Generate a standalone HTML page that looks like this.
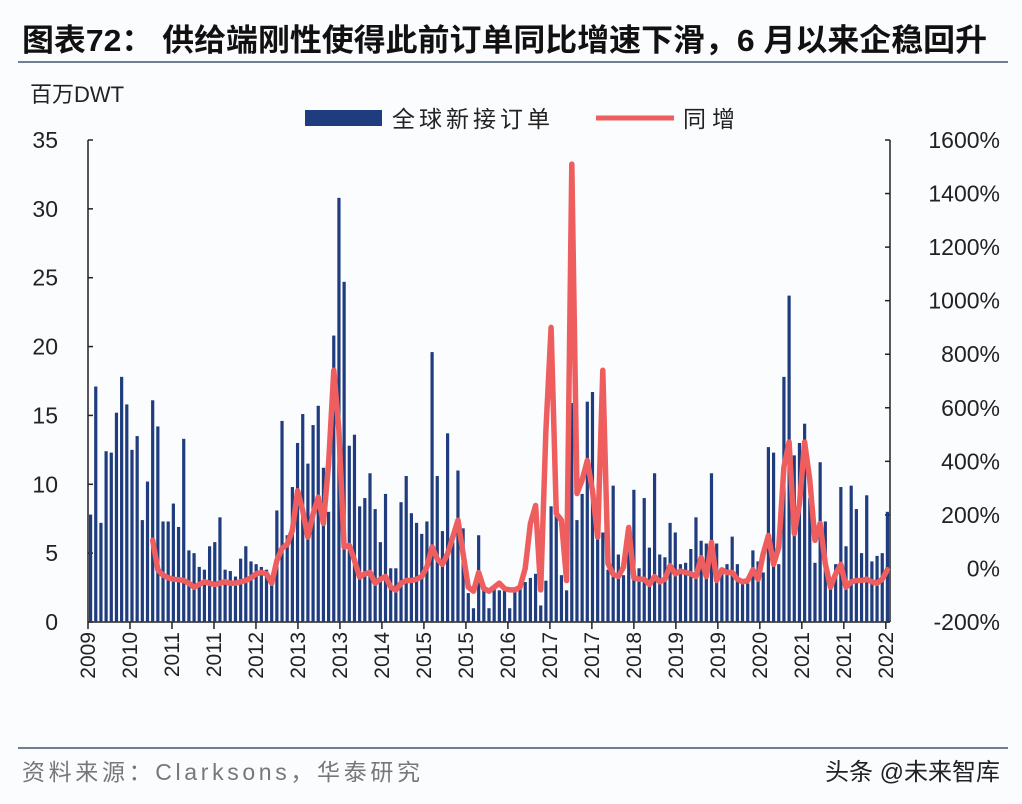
<!DOCTYPE html>
<html><head><meta charset="utf-8">
<style>
body{margin:0;background:#fbfcfe;}
svg{display:block;font-family:"Liberation Sans","Noto Sans CJK SC",sans-serif;}
</style></head>
<body>
<svg id="chart" width="1022" height="804" viewBox="0 0 1022 804">
<rect x="0" y="0" width="1022" height="804" fill="#fbfcfe"/>
<text x="22" y="51" font-size="31" font-weight="bold" fill="#111" textLength="965" lengthAdjust="spacingAndGlyphs">图表72： 供给端刚性使得此前订单同比增速下滑，6 月以来企稳回升</text>
<line x1="18" y1="62" x2="1008" y2="62" stroke="#6e7f95" stroke-width="2"/>
<text x="30" y="102" font-size="22" fill="#222">百万DWT</text>
<g>
<rect x="305" y="110" width="77" height="16" fill="#1f3c7e"/>
<text x="392" y="127" font-size="23" fill="#222" textLength="158" lengthAdjust="spacing">全球新接订单</text>
<line x1="596" y1="118" x2="674" y2="118" stroke="#ee5e5e" stroke-width="5"/>
<text x="683" y="127" font-size="23" fill="#222" textLength="52" lengthAdjust="spacing">同增</text>
</g>
<g id="axes"></g>
<g id="bars"></g>
<g id="line"></g>
<line x1="18" y1="748" x2="1008" y2="748" stroke="#6e7f95" stroke-width="2"/>
<text x="22" y="780" font-size="23" fill="#777" textLength="398" lengthAdjust="spacing">资料来源：Clarksons，华泰研究</text>
<text x="1000" y="780" font-size="24" fill="#222" text-anchor="end">头条 @未来智库</text>
</svg>
<script>
const orders = [7.8,17.1,7.2,12.4,12.3,15.2,17.8,15.8,12.5,13.5,7.4,10.2,16.1,14.2,7.3,7.3,8.6,6.9,13.3,5.2,5.0,4.0,3.8,5.5,5.8,7.6,3.8,3.7,3.3,4.6,5.5,4.4,4.2,4.0,3.8,3.3,8.1,14.6,6.3,9.8,
13.0,15.1,11.5,14.3,15.7,11.2,8,20.8,30.8,24.7,12.8,13.6,8.4,9.0,10.8,8.2,5.8,9.3,3.9,3.9,8.7,10.6,7.9,7.2,6.4,7.3,19.6,10.6,6.6,13.7,5.8,11.0,6.8,2.1,1.0,6.3,2.6,1.0,
2.6,2.3,2.3,1.0,2.3,2.6,2.9,3.2,3.5,1.2,3.0,8.4,7.7,3.4,2.3,15.9,7.4,9.3,16.0,16.7,6.0,6.5,3.8,9.9,4.9,3.4,7.0,9.6,3.9,9.0,5.4,10.8,4.9,4.7,7.2,6.5,4.2,4.3,5.3,
7.6,5.9,5.7,10.8,5.7,3.9,4.2,6.2,4.2,2.9,2.8,5.2,4.4,3.6,12.7,12.3,4.2,17.8,23.7,12.1,13.0,14.4,9.0,4.3,11.6,7.3,2.4,4.2,9.8,5.5,9.9,8.2,5.0,9.2,4.4,4.8,5.0,8.0];
const yoy = [null,null,null,null,null,null,null,null,null,null,null,null,
105,-5,-25,-35,-40,-42,-45,-55,-70,-60,-50,-55,-60,-55,-50,-55,-55,-50,-45,-35,-20,-15,-20,-55,30,75,90,142,
290,216,117,204,266,168,392,740,515,80,86,30,-32,-20,-15,-55,-40,-30,-70,-80,-55,-45,-45,-40,-30,5,80,35,15,55,117,180,55,-70,-85,-15,-75,-85,
-70,-55,-75,-80,-80,-70,0,168,235,-80,515,900,205,180,-45,1510,280,330,403,290,117,740,18,-22,-30,5,153,-35,-40,-40,-60,-30,-50,-40,10,-20,-10,-15,-20,
-30,40,-30,97,-45,-5,-15,-15,-40,-50,-45,-5,-40,55,123,15,80,378,472,130,243,472,330,105,168,18,-70,-20,15,-70,-50,-45,-45,-40,-50,-55,-40,-5];
const leftTicks = [0,5,10,15,20,25,30,35];
const rightTicks = [-200,0,200,400,600,800,1000,1200,1400,1600];
const yearLabels = ["2009","2010","2011","2011","2012","2013","2013","2014","2015","2015","2016","2017","2017","2018","2019","2019","2020","2021","2021","2022"];

const NS="http://www.w3.org/2000/svg";
const X0=88, X1=890, Y0=622, Y1=140;
const n=orders.length, step=(X1-X0)/n;
function xc(i){return X0+step*(i+0.5);}
function yL(v){return Y0-(v-0)/(35-0)*(Y0-Y1);}
function yR(v){return Y0-(v+200)/(1800)*(Y0-Y1);}
function mk(tag,attrs,parent){const e=document.createElementNS(NS,tag);for(const k in attrs)e.setAttribute(k,attrs[k]);parent.appendChild(e);return e;}

const axes=document.getElementById('axes');
let a=mk('line',{x1:X0,y1:Y1,x2:X0,y2:Y0,stroke:'#222','stroke-width':1.5},axes);


a=mk('line',{x1:X1,y1:Y1,x2:X1,y2:Y0,stroke:'#222','stroke-width':1.5},axes);


a=mk('line',{x1:X0,y1:Y0,x2:X1,y2:Y0,stroke:'#222','stroke-width':1.5},axes);


leftTicks.forEach(v=>{
  const y=yL(v);
  const t=mk('line',{x1:X0,y1:y,x2:X0+5,y2:y,stroke:'#222','stroke-width':1.5},axes);
  
  
  const l=mk('text',{x:58,y:y+8,'font-size':23,'text-anchor':'end',fill:'#222'},axes);
  l.textContent=v;
  
  
});
rightTicks.forEach(v=>{
  const y=yR(v);
  const t=mk('line',{x1:X1-5,y1:y,x2:X1,y2:y,stroke:'#222','stroke-width':1.5},axes);
  
  
  const l=mk('text',{x:1000,y:y+8,'font-size':23,'text-anchor':'end',fill:'#222'},axes);
  l.textContent=v+'%';
  
  
});
const tickStep=(X1-X0)/19.1;
yearLabels.forEach((s,k)=>{
  const x=X0+tickStep*k;
  const t=mk('line',{x1:x,y1:Y0,x2:x,y2:Y0+7,stroke:'#222','stroke-width':1.5},axes);
  
  
  const l=mk('text',{x:0,y:0,'font-size':21,'text-anchor':'end',fill:'#222',transform:`translate(${x+7},${Y0+10}) rotate(-90)`},axes);
  l.textContent=s;
  
  
});
const bars=document.getElementById('bars');
orders.forEach((v,i)=>{
  const y=yL(v);
  const r=mk('rect',{x:xc(i)-1.6,y:y,width:3.2,height:Y0-y,fill:'#1f3c7e'},bars);
  
  
});
let d='';
yoy.forEach((v,i)=>{ if(v===null)return; d+=(d?'L':'M')+xc(i).toFixed(1)+','+yR(v).toFixed(1);});
const p=mk('path',{d:d,fill:'none',stroke:'#ee5e5e','stroke-width':5.5,'stroke-linejoin':'round','stroke-linecap':'round'},document.getElementById('line'));


</script>
</body></html>
